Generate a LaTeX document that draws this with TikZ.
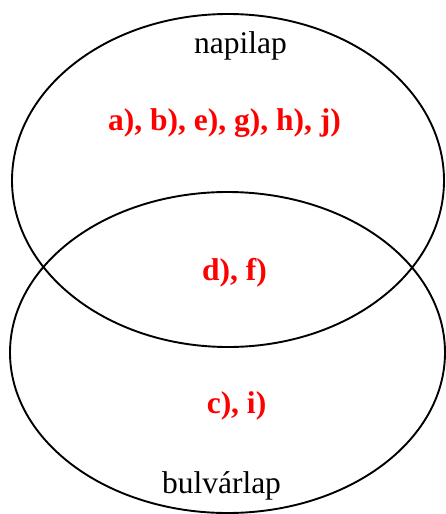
\documentclass[tikz,border=0pt]{standalone}
\usepackage{fontspec}
\setmainfont{Liberation Serif}
\usetikzlibrary{shapes.geometric}
\begin{document}
\begin{tikzpicture}[
    halmaz/.style={ellipse, draw, line width=1.9pt, inner sep=0pt},
    cimke/.style={anchor=base, font=\fontsize{31.5}{31.5}\selectfont},
    elem/.style={anchor=base, text=red, font=\fontsize{31.5}{31.5}\selectfont\bfseries},
    x=1pt, y=-1pt
]
\useasboundingbox (0,0) rectangle (445,514);

%% Halmazok
\node[halmaz, minimum width=432pt, minimum height=333pt] (napi) at (228,180.5) {};
\node[halmaz, minimum width=435pt, minimum height=321pt] (bulvar) at (227.5,352.5) {};

%% Feliratok
\node[cimke] (napicim) at (240.5,53) {napilap};
\node[cimke] (bulvarcim) at (221.5,493) {bulvárlap};

%% Elemek
\node[elem] (csaknapi) at (224.5,130) {a), b), e), g), h), j)};
\node[elem] (mindketto) at (234.5,280) {d), f)};
\node[elem] (csakbulvar) at (236.5,413) {c), i)};

\end{tikzpicture}
\end{document}
